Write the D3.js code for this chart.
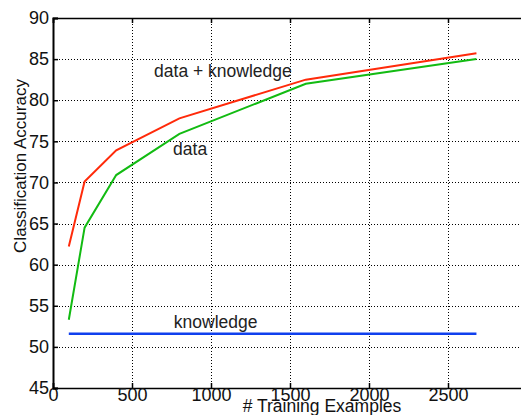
<!DOCTYPE html>
<html>
<head>
<meta charset="utf-8">
<script src="https://cdn.jsdelivr.net/npm/d3@7"></script>
<style>
  html, body { margin: 0; padding: 0; background: #fff; overflow: hidden; }
  svg { display: block; font-family: "Liberation Sans", Arial, sans-serif; }
</style>
</head>
<body>
<svg id="chart" width="521" height="415"></svg>
<script>
// ---- data ----
const trainingExamples = [100, 200, 400, 800, 1600, 2680];
const dataKnowledge    = [62.2, 70.1, 73.9, 77.8, 82.5, 85.7];
const dataOnly         = [53.3, 64.5, 70.9, 75.9, 82.0, 85.0];
const knowledgeOnly    = [51.6, 51.6, 51.6, 51.6, 51.6, 51.6];
const xTicks = [0, 500, 1000, 1500, 2000, 2500];
const yTicks = [45, 50, 55, 60, 65, 70, 75, 80, 85, 90];
const seriesNames = ["data + knowledge", "data", "knowledge"];

const svg = d3.select("#chart");
const mLeft = 53, mRight = 527, mTop = 18, mBottom = 388;

const x = d3.scaleLinear().domain([0, 3000]).range([mLeft, mRight]);
const y = d3.scaleLinear().domain([45, 90]).range([mBottom, mTop]);
const px = v => Math.round(v) + 0.5;

// gridlines
const grid = svg.append("g")
  .attr("stroke", "#000").attr("stroke-width", 1)
  .attr("stroke-dasharray", "1,2")
  .attr("shape-rendering", "crispEdges");
grid.selectAll("line.h").data(yTicks.filter(v => v > 45 && v < 90)).join("line")
  .attr("class", "h")
  .attr("x1", mLeft).attr("x2", mRight)
  .attr("y1", d => px(y(d))).attr("y2", d => px(y(d)));
grid.selectAll("line.v").data(xTicks.filter(v => v > 0)).join("line")
  .attr("class", "v")
  .attr("y1", mTop).attr("y2", mBottom)
  .attr("x1", d => px(x(d))).attr("x2", d => px(x(d)));

// axes
const fontSize = 18;
const xAxis = svg.append("g").attr("transform", `translate(0,${mBottom})`)
  .call(d3.axisBottom(x).tickValues(xTicks).tickSize(-5).tickPadding(0).tickFormat(d3.format("d")));
const yAxis = svg.append("g").attr("transform", `translate(${mLeft},0)`)
  .call(d3.axisLeft(y).tickValues(yTicks).tickSize(-5).tickPadding(4).tickFormat(d3.format("d")));
const topAxis = svg.append("g").attr("transform", `translate(0,${mTop})`)
  .call(d3.axisTop(x).tickValues(xTicks).tickSize(-5).tickFormat(""));

[xAxis, yAxis, topAxis].forEach(g => {
  g.select(".domain").attr("stroke", "#000").attr("stroke-width", 1.5);
  g.selectAll(".tick line").attr("stroke", "#000").attr("stroke-width", 1.5);
  g.selectAll(".tick text").attr("fill", "#111")
    .attr("font-size", fontSize).attr("font-family", "Liberation Sans, Arial, sans-serif");
});
yAxis.select(".domain").attr("stroke-width", 2);

// lines
const line = d3.line().x((d, i) => x(trainingExamples[i])).y(d => y(d));
const series = [
  { values: dataKnowledge, color: "#ff2a0a", width: 2 },
  { values: dataOnly, color: "#12bb12", width: 2 },
  { values: knowledgeOnly, color: "#1040ee", width: 2.5 }
];
svg.append("g").selectAll("path").data(series).join("path")
  .attr("d", d => line(d.values))
  .attr("fill", "none")
  .attr("stroke", d => d.color)
  .attr("stroke-width", d => d.width);

// annotations
const ann = [
  { text: seriesNames[0], xv: 640, yv: 77 },
  { text: seriesNames[1], xv: 760, yv: 155 },
  { text: seriesNames[2], xv: 765, yv: 328 }
];
svg.append("g").selectAll("text").data(ann).join("text")
  .attr("x", d => x(d.xv))
  .attr("y", d => d.yv)
  .attr("font-size", 17.5)
  .attr("fill", "#222")
  .text(d => d.text);

// axis titles
svg.append("text")
  .attr("x", 322).attr("y", 412)
  .attr("text-anchor", "middle")
  .attr("font-size", 17.5).attr("fill", "#111")
  .text("# Training Examples");
svg.append("text")
  .attr("transform", "translate(26,166) rotate(-90)")
  .attr("text-anchor", "middle")
  .attr("font-size", 17).attr("fill", "#111")
  .text("Classification Accuracy");
</script>
</body>
</html>
